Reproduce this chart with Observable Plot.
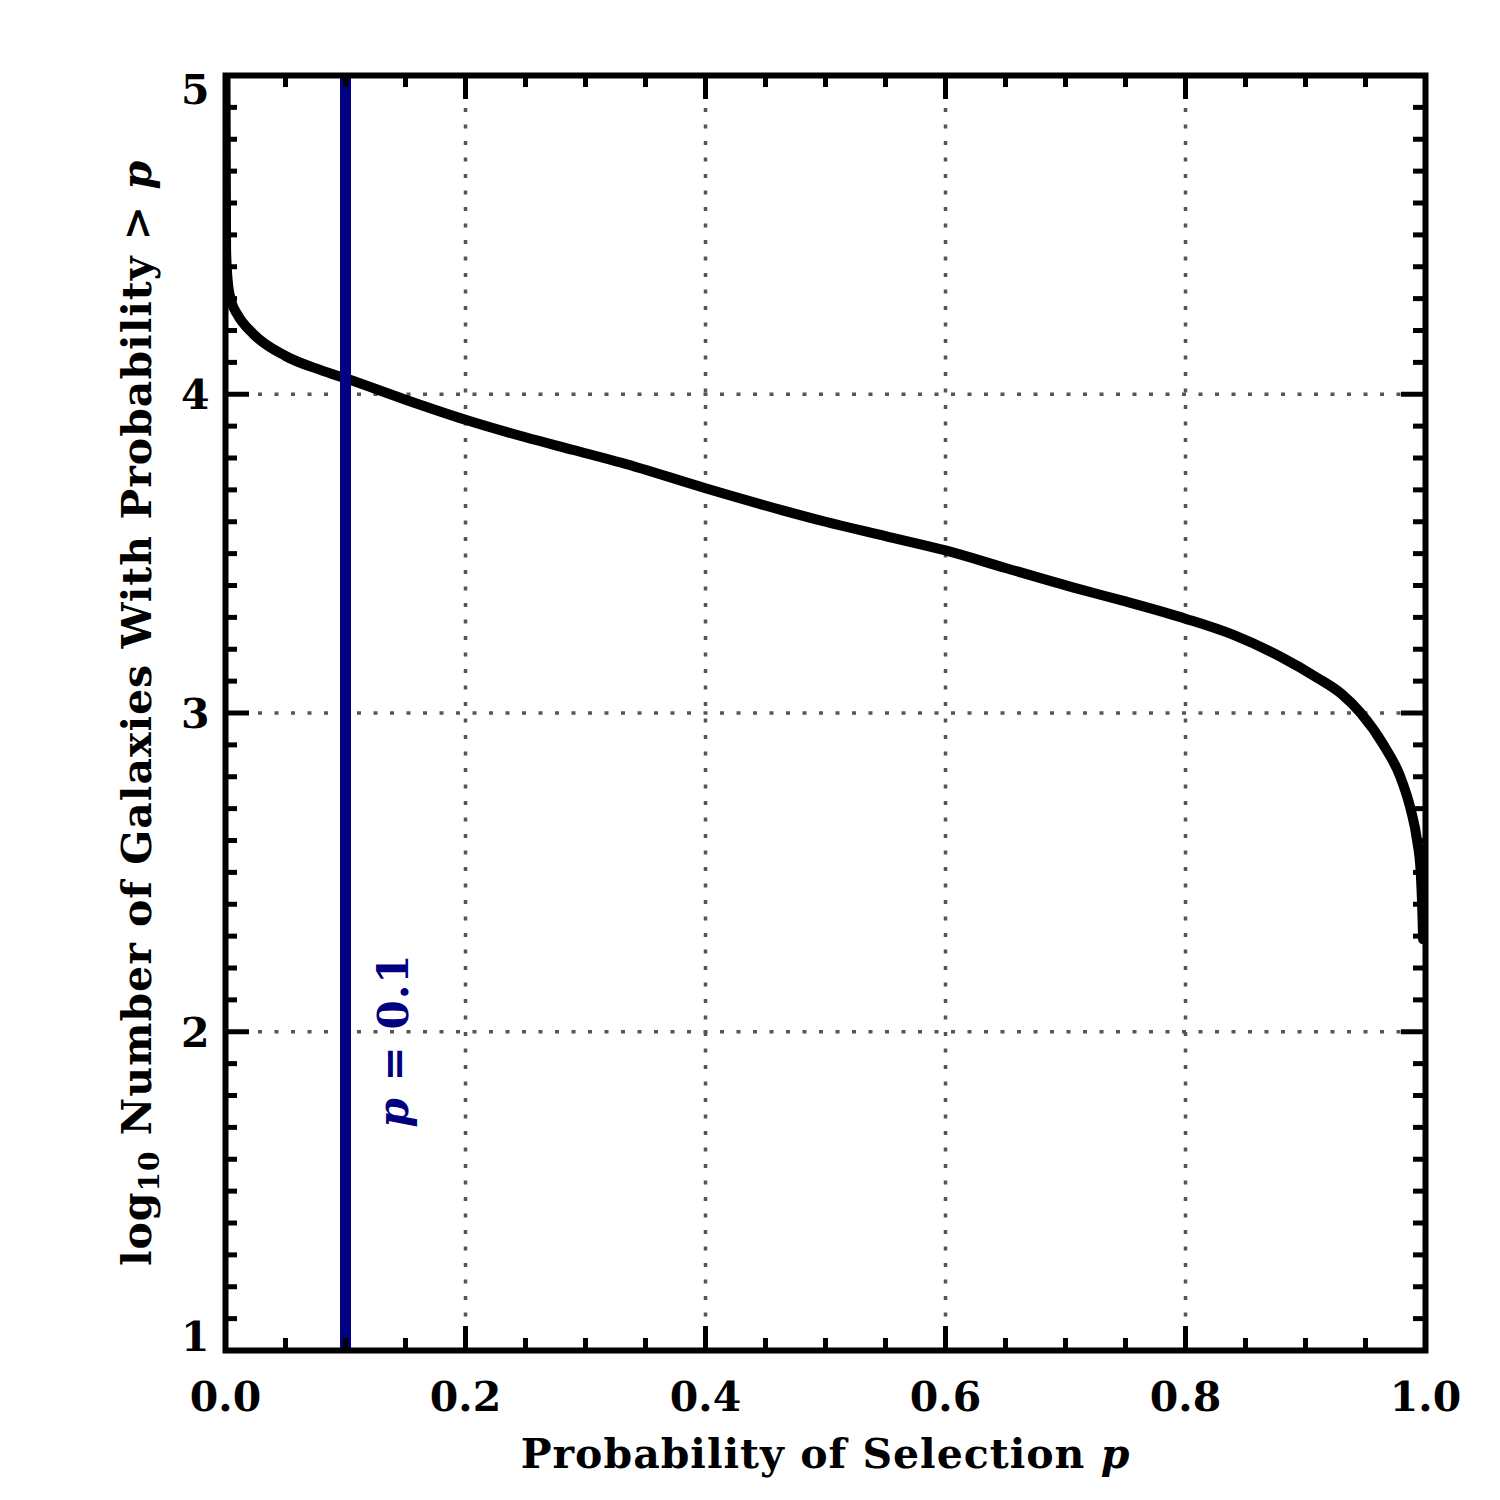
<!DOCTYPE html>
<html><head><meta charset="utf-8">
<script src="https://cdn.jsdelivr.net/npm/d3@7"></script>
<script src="https://cdn.jsdelivr.net/npm/@observablehq/plot@0.6"></script>
<style>body{margin:0;background:#fff}</style>
</head><body><div id="chart"></div>
<script>
// ---- data ----
const pValues = [0, 0.0005, 0.002, 0.005, 0.01, 0.023, 0.05, 0.08, 0.1, 0.15, 0.2, 0.25, 0.29, 0.33, 0.4, 0.465, 0.5, 0.55, 0.6, 0.65, 0.71, 0.75, 0.8, 0.84, 0.88, 0.91, 0.93, 0.946, 0.965, 0.979, 0.9875, 0.993, 0.996, 0.9975, 0.998];
const logN    = [5.0, 4.45, 4.35, 4.29, 4.25, 4.19, 4.12, 4.075, 4.05, 3.983, 3.92, 3.865, 3.825, 3.785, 3.705, 3.635, 3.60, 3.555, 3.51, 3.455, 3.39, 3.35, 3.296, 3.245, 3.175, 3.11, 3.06, 3.0, 2.9, 2.8, 2.7, 2.6, 2.5, 2.36, 2.29];
const cutP = [0.1];
const cutLabel = "p = 0.1";
const cutLabelY = 1.7;
const xMajor = [0, 0.2, 0.4, 0.6, 0.8, 1.0];
const xMinor = [0.05, 0.1, 0.15, 0.25, 0.3, 0.35, 0.45, 0.5, 0.55, 0.65, 0.7, 0.75, 0.85, 0.9, 0.95];
const yMajor = [1, 2, 3, 4, 5];
const yMinor = d3.range(1, 5.0001, 0.1).map(v => +v.toFixed(1)).filter(v => !yMajor.includes(v));
const xTitle = "Probability of Selection p";
const yTitle = "log10 Number of Galaxies With Probability > p";

const curve = pValues.map((p, i) => ({p, n: logN[i]}));

// ---- layout ----
const W = 1500, H = 1500, mL = 225, mR = 75, mT = 75, mB = 150;
const fw = W - mL - mR, fh = H - mT - mB;
const major = 24, minor = 12, tickW = 5;
const font = "DejaVu Serif";
const fs = 41;

const chart = Plot.plot({
  width: W, height: H,
  marginLeft: mL, marginRight: mR, marginTop: mT, marginBottom: mB,
  style: {fontFamily: font, background: "#fff", color: "#000"},
  x: {domain: [0, 1]},
  y: {domain: [1, 5]},
  marks: [
    // dotted grid
    Plot.ruleX(xMajor, {x: d => d, stroke: "#555", strokeWidth: 3.5, strokeDasharray: "4,12.5"}),
    Plot.ruleY(yMajor, {y: d => d, stroke: "#555", strokeWidth: 3.5, strokeDasharray: "4,12.5"}),
    // curve
    Plot.line(curve, {x: "p", y: "n", stroke: "#000", strokeWidth: 10, strokeLinejoin: "round", curve: "monotone-x", clip: true}),
    // cut line
    Plot.ruleX(cutP, {x: d => d, stroke: "#000080", strokeWidth: 11}),
    Plot.text(cutP, {x: d => d, y: () => cutLabelY, text: () => cutLabel, rotate: -90, textAnchor: "start", lineAnchor: "bottom", dx: 62, fill: "#000080", fontSize: 42, fontWeight: "bold"}),
    // frame
    Plot.frame({stroke: "#000", strokeWidth: 6}),
    // ticks (inside, all four sides)
    Plot.tickX(xMajor, {x: d => d, insetTop: fh - major, strokeWidth: tickW}),
    Plot.tickX(xMajor, {x: d => d, insetBottom: fh - major, strokeWidth: tickW}),
    Plot.tickX(xMinor, {x: d => d, insetTop: fh - minor, strokeWidth: tickW}),
    Plot.tickX(xMinor, {x: d => d, insetBottom: fh - minor, strokeWidth: tickW}),
    Plot.tickY(yMajor, {y: d => d, insetRight: fw - major, strokeWidth: tickW}),
    Plot.tickY(yMajor, {y: d => d, insetLeft: fw - major, strokeWidth: tickW}),
    Plot.tickY(yMinor, {y: d => d, insetRight: fw - minor, strokeWidth: tickW}),
    Plot.tickY(yMinor, {y: d => d, insetLeft: fw - minor, strokeWidth: tickW}),
    // tick labels
    Plot.axisX(xMajor, {tickSize: 0, tickPadding: 31, tickFormat: d3.format(".1f"), fontSize: fs, fontWeight: "bold", label: null}),
    Plot.axisY([2, 3, 4], {tickSize: 0, tickPadding: 16, tickFormat: d3.format("d"), fontSize: fs, fontWeight: "bold", label: null, dy: 2}),
    Plot.axisY([5], {tickSize: 0, tickPadding: 16, tickFormat: d3.format("d"), fontSize: fs, fontWeight: "bold", label: null, dy: 15}),
    Plot.axisY([1], {tickSize: 0, tickPadding: 16, tickFormat: d3.format("d"), fontSize: fs, fontWeight: "bold", label: null, dy: -13}),
    // axis titles
    Plot.text([xTitle], {text: d => d, frameAnchor: "bottom", textAnchor: "middle", lineAnchor: "bottom", dy: 117, fontSize: 41, fontWeight: "bold"}),
    Plot.text([yTitle], {text: d => d, frameAnchor: "left", textAnchor: "middle", lineAnchor: "bottom", rotate: -90, dx: -75, fontSize: 41, fontWeight: "bold"})
  ]
});

document.getElementById("chart").appendChild(chart);

// rich text: italic p and subscript 10
function rich(match, parts, spacing) {
  d3.select(chart).selectAll("text").filter(function() { return this.textContent === match; }).each(function() {
    const t = d3.select(this);
    t.text(null);
    if (spacing) t.attr("letter-spacing", spacing);
    for (const [s, st] of parts) {
      const ts = t.append("tspan").text(s);
      if (st === "i") ts.attr("font-style", "italic");
      if (st === "sub") ts.attr("font-size", 28).attr("dy", 8);
      if (st === "unsub") ts.attr("dy", -8);
    }
  });
}
rich(cutLabel, [["p", "i"], [" = 0.1", ""]], 1);
rich(xTitle, [["Probability of Selection ", ""], ["p", "i"]], 1);
rich(yTitle, [["log", ""], ["10", "sub"], [" Number of Galaxies With Probability > ", "unsub"], ["p", "i"]], 1);
</script>
</body></html>
